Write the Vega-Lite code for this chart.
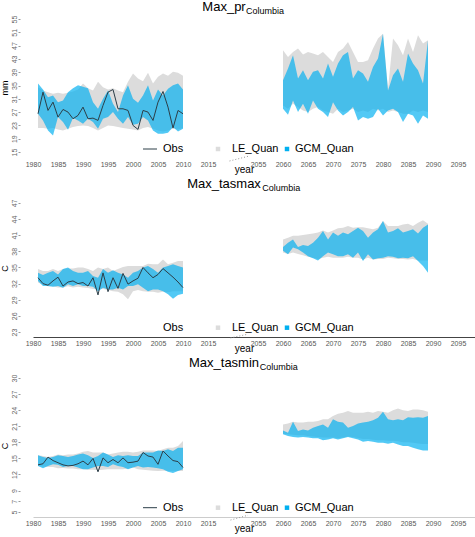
{
"$schema": "https://vega.github.io/schema/vega-lite/v6.json",
"padding": {"left": 0, "right": 0, "top": 1, "bottom": 0},
"spacing": 3,
"config": {"view": {"stroke": null}, "font": "Liberation Sans", "axis": {"labelOverlap": false}},
"datasets": {
"pr": [
{"year":1981,"period":"hist","Obs":26.5,"LE_lo":22.2,"LE_hi":34.5,"GCM_lo":26.5,"GCM_hi":35.6},
{"year":1982,"period":"hist","Obs":33.0,"LE_lo":22.2,"LE_hi":33.5,"GCM_lo":24.5,"GCM_hi":33.8},
{"year":1983,"period":"hist","Obs":27.5,"LE_lo":22.0,"LE_hi":33.0,"GCM_lo":21.5,"GCM_hi":31.5},
{"year":1984,"period":"hist","Obs":30.0,"LE_lo":22.2,"LE_hi":32.5,"GCM_lo":20.0,"GCM_hi":32.0},
{"year":1985,"period":"hist","Obs":25.5,"LE_lo":21.8,"LE_hi":32.8,"GCM_lo":25.5,"GCM_hi":30.0},
{"year":1986,"period":"hist","Obs":27.8,"LE_lo":21.5,"LE_hi":32.5,"GCM_lo":24.0,"GCM_hi":30.5},
{"year":1987,"period":"hist","Obs":27.0,"LE_lo":22.0,"LE_hi":32.8,"GCM_lo":21.7,"GCM_hi":33.0},
{"year":1988,"period":"hist","Obs":25.0,"LE_lo":22.5,"LE_hi":33.2,"GCM_lo":25.2,"GCM_hi":34.2},
{"year":1989,"period":"hist","Obs":26.0,"LE_lo":22.8,"LE_hi":33.8,"GCM_lo":24.5,"GCM_hi":35.1},
{"year":1990,"period":"hist","Obs":28.5,"LE_lo":23.0,"LE_hi":35.6,"GCM_lo":23.5,"GCM_hi":34.6},
{"year":1991,"period":"hist","Obs":25.0,"LE_lo":22.8,"LE_hi":34.2,"GCM_lo":25.0,"GCM_hi":34.2},
{"year":1992,"period":"hist","Obs":25.2,"LE_lo":22.2,"LE_hi":33.5,"GCM_lo":24.0,"GCM_hi":30.0},
{"year":1993,"period":"hist","Obs":24.5,"LE_lo":21.5,"LE_hi":36.1,"GCM_lo":22.0,"GCM_hi":28.0},
{"year":1994,"period":"hist","Obs":29.0,"LE_lo":22.2,"LE_hi":34.5,"GCM_lo":25.0,"GCM_hi":31.0},
{"year":1995,"period":"hist","Obs":33.0,"LE_lo":23.0,"LE_hi":33.8,"GCM_lo":25.5,"GCM_hi":33.5},
{"year":1996,"period":"hist","Obs":33.8,"LE_lo":22.8,"LE_hi":34.2,"GCM_lo":27.0,"GCM_hi":29.5},
{"year":1997,"period":"hist","Obs":28.0,"LE_lo":22.5,"LE_hi":33.5,"GCM_lo":25.0,"GCM_hi":27.0},
{"year":1998,"period":"hist","Obs":28.0,"LE_lo":22.2,"LE_hi":33.0,"GCM_lo":23.5,"GCM_hi":32.0},
{"year":1999,"period":"hist","Obs":27.5,"LE_lo":22.0,"LE_hi":36.1,"GCM_lo":25.5,"GCM_hi":35.1},
{"year":2000,"period":"hist","Obs":23.0,"LE_lo":21.8,"LE_hi":38.6,"GCM_lo":23.2,"GCM_hi":31.0},
{"year":2001,"period":"hist","Obs":21.8,"LE_lo":21.5,"LE_hi":37.1,"GCM_lo":23.5,"GCM_hi":29.8},
{"year":2002,"period":"hist","Obs":27.5,"LE_lo":22.2,"LE_hi":36.3,"GCM_lo":25.5,"GCM_hi":32.0},
{"year":2003,"period":"hist","Obs":27.0,"LE_lo":22.5,"LE_hi":38.8,"GCM_lo":24.5,"GCM_hi":35.1},
{"year":2004,"period":"hist","Obs":24.5,"LE_lo":22.0,"LE_hi":35.6,"GCM_lo":21.5,"GCM_hi":30.5},
{"year":2005,"period":"hist","Obs":30.0,"LE_lo":21.5,"LE_hi":37.6,"GCM_lo":20.5,"GCM_hi":33.8},
{"year":2006,"period":"hist","Obs":33.2,"LE_lo":21.2,"LE_hi":38.6,"GCM_lo":20.5,"GCM_hi":32.0},
{"year":2007,"period":"hist","Obs":28.5,"LE_lo":21.5,"LE_hi":37.9,"GCM_lo":20.8,"GCM_hi":34.0},
{"year":2008,"period":"hist","Obs":22.2,"LE_lo":22.0,"LE_hi":39.1,"GCM_lo":22.5,"GCM_hi":35.1},
{"year":2009,"period":"hist","Obs":27.5,"LE_lo":21.8,"LE_hi":38.8,"GCM_lo":21.2,"GCM_hi":35.6},
{"year":2010,"period":"hist","Obs":26.5,"LE_lo":22.2,"LE_hi":37.9,"GCM_lo":22.0,"GCM_hi":33.8},
{"year":2060,"period":"future","LE_lo":29.0,"LE_hi":45.6,"GCM_lo":28.0,"GCM_hi":36.6},
{"year":2061,"period":"future","LE_lo":28.0,"LE_hi":43.6,"GCM_lo":26.2,"GCM_hi":40.1},
{"year":2062,"period":"future","LE_lo":29.5,"LE_hi":45.1,"GCM_lo":30.5,"GCM_hi":44.1},
{"year":2063,"period":"future","LE_lo":28.5,"LE_hi":46.1,"GCM_lo":27.0,"GCM_hi":37.1},
{"year":2064,"period":"future","LE_lo":27.5,"LE_hi":44.3,"GCM_lo":29.5,"GCM_hi":39.6},
{"year":2065,"period":"future","LE_lo":27.0,"LE_hi":45.1,"GCM_lo":26.5,"GCM_hi":36.6},
{"year":2066,"period":"future","LE_lo":28.0,"LE_hi":44.6,"GCM_lo":30.5,"GCM_hi":39.1},
{"year":2067,"period":"future","LE_lo":28.5,"LE_hi":44.1,"GCM_lo":28.0,"GCM_hi":39.6},
{"year":2068,"period":"future","LE_lo":27.5,"LE_hi":45.1,"GCM_lo":27.0,"GCM_hi":37.1},
{"year":2069,"period":"future","LE_lo":27.0,"LE_hi":43.6,"GCM_lo":25.5,"GCM_hi":41.6},
{"year":2070,"period":"future","LE_lo":26.5,"LE_hi":42.1,"GCM_lo":30.0,"GCM_hi":37.6},
{"year":2071,"period":"future","LE_lo":28.0,"LE_hi":45.1,"GCM_lo":27.5,"GCM_hi":41.6},
{"year":2072,"period":"future","LE_lo":27.0,"LE_hi":46.1,"GCM_lo":26.0,"GCM_hi":44.1},
{"year":2073,"period":"future","LE_lo":27.5,"LE_hi":48.1,"GCM_lo":27.0,"GCM_hi":45.1},
{"year":2074,"period":"future","LE_lo":28.0,"LE_hi":45.1,"GCM_lo":28.5,"GCM_hi":37.1},
{"year":2075,"period":"future","LE_lo":27.0,"LE_hi":42.1,"GCM_lo":24.5,"GCM_hi":39.6},
{"year":2076,"period":"future","LE_lo":27.5,"LE_hi":42.1,"GCM_lo":25.5,"GCM_hi":38.6},
{"year":2077,"period":"future","LE_lo":27.0,"LE_hi":42.6,"GCM_lo":25.0,"GCM_hi":36.1},
{"year":2078,"period":"future","LE_lo":28.0,"LE_hi":46.1,"GCM_lo":25.5,"GCM_hi":40.6},
{"year":2079,"period":"future","LE_lo":27.5,"LE_hi":49.1,"GCM_lo":28.0,"GCM_hi":43.1},
{"year":2080,"period":"future","LE_lo":28.0,"LE_hi":50.6,"GCM_lo":26.0,"GCM_hi":50.6},
{"year":2081,"period":"future","LE_lo":27.0,"LE_hi":34.0,"GCM_lo":27.5,"GCM_hi":33.5},
{"year":2082,"period":"future","LE_lo":27.5,"LE_hi":49.1,"GCM_lo":28.0,"GCM_hi":38.1},
{"year":2083,"period":"future","LE_lo":27.0,"LE_hi":47.1,"GCM_lo":27.0,"GCM_hi":40.1},
{"year":2084,"period":"future","LE_lo":26.5,"LE_hi":44.1,"GCM_lo":24.0,"GCM_hi":36.1},
{"year":2085,"period":"future","LE_lo":26.5,"LE_hi":49.1,"GCM_lo":26.5,"GCM_hi":44.6},
{"year":2086,"period":"future","LE_lo":27.5,"LE_hi":45.1,"GCM_lo":26.0,"GCM_hi":41.6},
{"year":2087,"period":"future","LE_lo":27.0,"LE_hi":50.1,"GCM_lo":23.5,"GCM_hi":39.6},
{"year":2088,"period":"future","LE_lo":27.5,"LE_hi":47.6,"GCM_lo":26.0,"GCM_hi":35.6},
{"year":2089,"period":"future","LE_lo":27.0,"LE_hi":48.6,"GCM_lo":25.0,"GCM_hi":48.6}
],
"tasmax": [
{"year":1981,"period":"hist","Obs":33.1,"LE_lo":32.2,"LE_hi":34.7,"GCM_lo":32.5,"GCM_hi":34.0},
{"year":1982,"period":"hist","Obs":32.0,"LE_lo":31.8,"LE_hi":34.35,"GCM_lo":31.55,"GCM_hi":33.6},
{"year":1983,"period":"hist","Obs":31.7,"LE_lo":31.5,"LE_hi":34.35,"GCM_lo":31.55,"GCM_hi":34.0},
{"year":1984,"period":"hist","Obs":32.5,"LE_lo":31.5,"LE_hi":34.7,"GCM_lo":31.4,"GCM_hi":34.35},
{"year":1985,"period":"hist","Obs":33.2,"LE_lo":31.3,"LE_hi":34.35,"GCM_lo":31.55,"GCM_hi":33.7},
{"year":1986,"period":"hist","Obs":31.55,"LE_lo":31.3,"LE_hi":34.7,"GCM_lo":31.25,"GCM_hi":34.7},
{"year":1987,"period":"hist","Obs":32.3,"LE_lo":31.5,"LE_hi":34.8,"GCM_lo":31.9,"GCM_hi":35.0},
{"year":1988,"period":"hist","Obs":32.5,"LE_lo":31.3,"LE_hi":34.8,"GCM_lo":31.55,"GCM_hi":34.35},
{"year":1989,"period":"hist","Obs":32.0,"LE_lo":31.4,"LE_hi":35.0,"GCM_lo":31.9,"GCM_hi":34.0},
{"year":1990,"period":"hist","Obs":32.2,"LE_lo":31.3,"LE_hi":35.0,"GCM_lo":31.55,"GCM_hi":34.0},
{"year":1991,"period":"hist","Obs":31.55,"LE_lo":31.2,"LE_hi":34.7,"GCM_lo":31.55,"GCM_hi":34.35},
{"year":1992,"period":"hist","Obs":33.1,"LE_lo":31.0,"LE_hi":34.35,"GCM_lo":31.4,"GCM_hi":33.4},
{"year":1993,"period":"hist","Obs":29.9,"LE_lo":30.9,"LE_hi":35.0,"GCM_lo":30.6,"GCM_hi":33.1},
{"year":1994,"period":"hist","Obs":34.0,"LE_lo":31.0,"LE_hi":34.7,"GCM_lo":31.25,"GCM_hi":34.7},
{"year":1995,"period":"hist","Obs":30.5,"LE_lo":30.8,"LE_hi":35.0,"GCM_lo":30.9,"GCM_hi":34.0},
{"year":1996,"period":"hist","Obs":33.1,"LE_lo":30.6,"LE_hi":34.35,"GCM_lo":30.9,"GCM_hi":34.5},
{"year":1997,"period":"hist","Obs":31.1,"LE_lo":30.5,"LE_hi":34.7,"GCM_lo":31.25,"GCM_hi":34.0},
{"year":1998,"period":"hist","Obs":33.9,"LE_lo":30.0,"LE_hi":35.1,"GCM_lo":30.9,"GCM_hi":33.7},
{"year":1999,"period":"hist","Obs":31.9,"LE_lo":29.1,"LE_hi":35.3,"GCM_lo":31.55,"GCM_hi":33.1},
{"year":2000,"period":"hist","Obs":32.5,"LE_lo":30.6,"LE_hi":35.3,"GCM_lo":31.55,"GCM_hi":34.0},
{"year":2001,"period":"hist","Obs":33.0,"LE_lo":30.8,"LE_hi":35.3,"GCM_lo":31.9,"GCM_hi":34.35},
{"year":2002,"period":"hist","Obs":35.0,"LE_lo":30.6,"LE_hi":35.3,"GCM_lo":31.25,"GCM_hi":35.0},
{"year":2003,"period":"hist","Obs":34.0,"LE_lo":30.5,"LE_hi":35.7,"GCM_lo":30.6,"GCM_hi":35.3},
{"year":2004,"period":"hist","Obs":33.1,"LE_lo":30.5,"LE_hi":35.6,"GCM_lo":30.9,"GCM_hi":34.7},
{"year":2005,"period":"hist","Obs":33.7,"LE_lo":30.3,"LE_hi":35.6,"GCM_lo":30.9,"GCM_hi":34.0},
{"year":2006,"period":"hist","Obs":34.8,"LE_lo":30.5,"LE_hi":36.5,"GCM_lo":30.6,"GCM_hi":35.0},
{"year":2007,"period":"hist","Obs":34.0,"LE_lo":30.4,"LE_hi":35.6,"GCM_lo":30.0,"GCM_hi":35.3},
{"year":2008,"period":"hist","Obs":33.2,"LE_lo":30.6,"LE_hi":35.9,"GCM_lo":29.2,"GCM_hi":35.6},
{"year":2009,"period":"hist","Obs":32.3,"LE_lo":30.6,"LE_hi":36.2,"GCM_lo":29.9,"GCM_hi":35.3},
{"year":2010,"period":"hist","Obs":31.25,"LE_lo":30.6,"LE_hi":36.2,"GCM_lo":30.1,"GCM_hi":35.0},
{"year":2060,"period":"future","LE_lo":37.8,"LE_hi":40.2,"GCM_lo":38.1,"GCM_hi":38.8},
{"year":2061,"period":"future","LE_lo":37.5,"LE_hi":40.55,"GCM_lo":37.45,"GCM_hi":39.6},
{"year":2062,"period":"future","LE_lo":37.8,"LE_hi":40.9,"GCM_lo":38.7,"GCM_hi":40.2},
{"year":2063,"period":"future","LE_lo":37.5,"LE_hi":40.9,"GCM_lo":38.4,"GCM_hi":38.8},
{"year":2064,"period":"future","LE_lo":37.3,"LE_hi":41.05,"GCM_lo":37.8,"GCM_hi":39.2},
{"year":2065,"period":"future","LE_lo":37.0,"LE_hi":41.2,"GCM_lo":37.1,"GCM_hi":39.0},
{"year":2066,"period":"future","LE_lo":36.8,"LE_hi":41.3,"GCM_lo":36.7,"GCM_hi":39.6},
{"year":2067,"period":"future","LE_lo":36.6,"LE_hi":41.5,"GCM_lo":36.3,"GCM_hi":40.55},
{"year":2068,"period":"future","LE_lo":36.8,"LE_hi":41.9,"GCM_lo":37.1,"GCM_hi":41.8},
{"year":2069,"period":"future","LE_lo":37.0,"LE_hi":41.5,"GCM_lo":37.8,"GCM_hi":40.2},
{"year":2070,"period":"future","LE_lo":36.8,"LE_hi":41.9,"GCM_lo":37.45,"GCM_hi":41.5},
{"year":2071,"period":"future","LE_lo":36.8,"LE_hi":42.3,"GCM_lo":37.1,"GCM_hi":40.9},
{"year":2072,"period":"future","LE_lo":36.8,"LE_hi":42.4,"GCM_lo":37.1,"GCM_hi":41.5},
{"year":2073,"period":"future","LE_lo":37.0,"LE_hi":42.7,"GCM_lo":37.45,"GCM_hi":41.2},
{"year":2074,"period":"future","LE_lo":36.8,"LE_hi":42.4,"GCM_lo":36.8,"GCM_hi":41.8},
{"year":2075,"period":"future","LE_lo":36.8,"LE_hi":42.5,"GCM_lo":37.8,"GCM_hi":42.4},
{"year":2076,"period":"future","LE_lo":36.5,"LE_hi":42.5,"GCM_lo":36.2,"GCM_hi":41.8},
{"year":2077,"period":"future","LE_lo":36.8,"LE_hi":42.3,"GCM_lo":37.45,"GCM_hi":40.55},
{"year":2078,"period":"future","LE_lo":36.5,"LE_hi":42.1,"GCM_lo":36.5,"GCM_hi":41.5},
{"year":2079,"period":"future","LE_lo":36.6,"LE_hi":42.4,"GCM_lo":36.7,"GCM_hi":42.1},
{"year":2080,"period":"future","LE_lo":36.6,"LE_hi":43.65,"GCM_lo":36.8,"GCM_hi":43.65},
{"year":2081,"period":"future","LE_lo":36.8,"LE_hi":42.7,"GCM_lo":37.1,"GCM_hi":41.5},
{"year":2082,"period":"future","LE_lo":36.7,"LE_hi":42.7,"GCM_lo":37.0,"GCM_hi":41.8},
{"year":2083,"period":"future","LE_lo":36.6,"LE_hi":42.7,"GCM_lo":36.7,"GCM_hi":42.3},
{"year":2084,"period":"future","LE_lo":36.6,"LE_hi":43.0,"GCM_lo":36.8,"GCM_hi":41.5},
{"year":2085,"period":"future","LE_lo":36.5,"LE_hi":43.15,"GCM_lo":36.7,"GCM_hi":41.8},
{"year":2086,"period":"future","LE_lo":36.6,"LE_hi":42.7,"GCM_lo":37.1,"GCM_hi":42.1},
{"year":2087,"period":"future","LE_lo":36.3,"LE_hi":43.3,"GCM_lo":36.2,"GCM_hi":41.3},
{"year":2088,"period":"future","LE_lo":36.3,"LE_hi":43.8,"GCM_lo":35.3,"GCM_hi":42.4},
{"year":2089,"period":"future","LE_lo":36.3,"LE_hi":43.15,"GCM_lo":34.0,"GCM_hi":43.0}
],
"tasmin": [
{"year":1981,"period":"hist","Obs":13.8,"LE_lo":13.6,"LE_hi":15.6,"GCM_lo":13.6,"GCM_hi":15.6},
{"year":1982,"period":"hist","Obs":14.0,"LE_lo":13.5,"LE_hi":15.45,"GCM_lo":13.15,"GCM_hi":15.25},
{"year":1983,"period":"hist","Obs":15.25,"LE_lo":13.4,"LE_hi":15.25,"GCM_lo":13.6,"GCM_hi":15.1},
{"year":1984,"period":"hist","Obs":14.6,"LE_lo":13.4,"LE_hi":15.45,"GCM_lo":13.9,"GCM_hi":15.25},
{"year":1985,"period":"hist","Obs":14.2,"LE_lo":13.15,"LE_hi":15.75,"GCM_lo":13.8,"GCM_hi":15.6},
{"year":1986,"period":"hist","Obs":13.8,"LE_lo":13.2,"LE_hi":15.6,"GCM_lo":13.4,"GCM_hi":15.45},
{"year":1987,"period":"hist","Obs":13.6,"LE_lo":13.1,"LE_hi":15.75,"GCM_lo":13.6,"GCM_hi":15.25},
{"year":1988,"period":"hist","Obs":13.7,"LE_lo":13.1,"LE_hi":15.75,"GCM_lo":13.6,"GCM_hi":15.45},
{"year":1989,"period":"hist","Obs":14.0,"LE_lo":13.0,"LE_hi":15.9,"GCM_lo":13.3,"GCM_hi":15.75},
{"year":1990,"period":"hist","Obs":14.5,"LE_lo":13.0,"LE_hi":16.25,"GCM_lo":13.0,"GCM_hi":15.9},
{"year":1991,"period":"hist","Obs":13.8,"LE_lo":12.9,"LE_hi":16.4,"GCM_lo":13.0,"GCM_hi":15.6},
{"year":1992,"period":"hist","Obs":15.0,"LE_lo":12.9,"LE_hi":16.1,"GCM_lo":13.3,"GCM_hi":15.1},
{"year":1993,"period":"hist","Obs":12.5,"LE_lo":12.8,"LE_hi":16.1,"GCM_lo":13.6,"GCM_hi":15.45},
{"year":1994,"period":"hist","Obs":15.1,"LE_lo":12.9,"LE_hi":16.1,"GCM_lo":13.6,"GCM_hi":16.1},
{"year":1995,"period":"hist","Obs":14.2,"LE_lo":13.0,"LE_hi":15.75,"GCM_lo":13.4,"GCM_hi":15.75},
{"year":1996,"period":"hist","Obs":14.8,"LE_lo":13.0,"LE_hi":15.9,"GCM_lo":13.9,"GCM_hi":15.25},
{"year":1997,"period":"hist","Obs":14.2,"LE_lo":13.0,"LE_hi":16.1,"GCM_lo":13.6,"GCM_hi":15.6},
{"year":1998,"period":"hist","Obs":15.1,"LE_lo":13.0,"LE_hi":16.25,"GCM_lo":13.4,"GCM_hi":15.45},
{"year":1999,"period":"hist","Obs":14.2,"LE_lo":13.1,"LE_hi":16.25,"GCM_lo":13.0,"GCM_hi":15.6},
{"year":2000,"period":"hist","Obs":14.3,"LE_lo":13.3,"LE_hi":16.1,"GCM_lo":13.3,"GCM_hi":15.45},
{"year":2001,"period":"hist","Obs":14.5,"LE_lo":13.0,"LE_hi":16.25,"GCM_lo":13.6,"GCM_hi":15.45},
{"year":2002,"period":"hist","Obs":16.1,"LE_lo":12.9,"LE_hi":16.5,"GCM_lo":13.3,"GCM_hi":16.1},
{"year":2003,"period":"hist","Obs":15.45,"LE_lo":12.8,"LE_hi":16.5,"GCM_lo":13.4,"GCM_hi":16.1},
{"year":2004,"period":"hist","Obs":15.25,"LE_lo":12.7,"LE_hi":16.5,"GCM_lo":13.3,"GCM_hi":16.1},
{"year":2005,"period":"hist","Obs":13.9,"LE_lo":12.65,"LE_hi":16.4,"GCM_lo":13.15,"GCM_hi":16.5},
{"year":2006,"period":"hist","Obs":16.4,"LE_lo":12.7,"LE_hi":16.7,"GCM_lo":13.0,"GCM_hi":16.4},
{"year":2007,"period":"hist","Obs":15.45,"LE_lo":12.65,"LE_hi":17.0,"GCM_lo":12.5,"GCM_hi":16.7},
{"year":2008,"period":"hist","Obs":14.6,"LE_lo":12.65,"LE_hi":17.0,"GCM_lo":12.3,"GCM_hi":16.4},
{"year":2009,"period":"hist","Obs":14.4,"LE_lo":12.65,"LE_hi":17.3,"GCM_lo":12.65,"GCM_hi":17.0},
{"year":2010,"period":"hist","Obs":13.3,"LE_lo":12.65,"LE_hi":18.25,"GCM_lo":13.0,"GCM_hi":17.0},
{"year":2060,"period":"future","LE_lo":19.6,"LE_hi":21.35,"GCM_lo":19.5,"GCM_hi":20.2},
{"year":2061,"period":"future","LE_lo":19.5,"LE_hi":21.5,"GCM_lo":19.2,"GCM_hi":19.8},
{"year":2062,"period":"future","LE_lo":19.4,"LE_hi":21.85,"GCM_lo":19.0,"GCM_hi":21.85},
{"year":2063,"period":"future","LE_lo":19.3,"LE_hi":21.7,"GCM_lo":18.9,"GCM_hi":20.1},
{"year":2064,"period":"future","LE_lo":19.3,"LE_hi":21.7,"GCM_lo":19.0,"GCM_hi":20.4},
{"year":2065,"period":"future","LE_lo":19.2,"LE_hi":21.85,"GCM_lo":18.9,"GCM_hi":20.2},
{"year":2066,"period":"future","LE_lo":19.1,"LE_hi":21.85,"GCM_lo":18.75,"GCM_hi":20.7},
{"year":2067,"period":"future","LE_lo":19.0,"LE_hi":22.0,"GCM_lo":18.75,"GCM_hi":21.05},
{"year":2068,"period":"future","LE_lo":18.9,"LE_hi":22.3,"GCM_lo":18.4,"GCM_hi":21.35},
{"year":2069,"period":"future","LE_lo":18.9,"LE_hi":22.3,"GCM_lo":18.55,"GCM_hi":20.7},
{"year":2070,"period":"future","LE_lo":18.9,"LE_hi":22.9,"GCM_lo":18.75,"GCM_hi":22.3},
{"year":2071,"period":"future","LE_lo":18.8,"LE_hi":23.35,"GCM_lo":18.55,"GCM_hi":21.85},
{"year":2072,"period":"future","LE_lo":18.9,"LE_hi":23.5,"GCM_lo":18.75,"GCM_hi":21.7},
{"year":2073,"period":"future","LE_lo":19.1,"LE_hi":23.85,"GCM_lo":19.0,"GCM_hi":20.7},
{"year":2074,"period":"future","LE_lo":19.0,"LE_hi":23.5,"GCM_lo":18.75,"GCM_hi":21.05},
{"year":2075,"period":"future","LE_lo":18.8,"LE_hi":23.5,"GCM_lo":18.55,"GCM_hi":21.5},
{"year":2076,"period":"future","LE_lo":18.6,"LE_hi":23.5,"GCM_lo":18.1,"GCM_hi":21.7},
{"year":2077,"period":"future","LE_lo":18.6,"LE_hi":23.7,"GCM_lo":18.25,"GCM_hi":21.85},
{"year":2078,"period":"future","LE_lo":18.5,"LE_hi":23.5,"GCM_lo":18.1,"GCM_hi":22.1},
{"year":2079,"period":"future","LE_lo":18.4,"LE_hi":23.85,"GCM_lo":17.9,"GCM_hi":22.6},
{"year":2080,"period":"future","LE_lo":18.4,"LE_hi":23.7,"GCM_lo":17.9,"GCM_hi":23.7},
{"year":2081,"period":"future","LE_lo":18.3,"LE_hi":23.5,"GCM_lo":17.75,"GCM_hi":22.3},
{"year":2082,"period":"future","LE_lo":18.3,"LE_hi":24.0,"GCM_lo":17.9,"GCM_hi":22.1},
{"year":2083,"period":"future","LE_lo":18.2,"LE_hi":24.3,"GCM_lo":17.6,"GCM_hi":22.3},
{"year":2084,"period":"future","LE_lo":18.0,"LE_hi":24.0,"GCM_lo":17.3,"GCM_hi":22.1},
{"year":2085,"period":"future","LE_lo":18.0,"LE_hi":23.85,"GCM_lo":17.3,"GCM_hi":22.7},
{"year":2086,"period":"future","LE_lo":17.9,"LE_hi":24.15,"GCM_lo":17.0,"GCM_hi":22.6},
{"year":2087,"period":"future","LE_lo":17.8,"LE_hi":24.15,"GCM_lo":16.7,"GCM_hi":22.7},
{"year":2088,"period":"future","LE_lo":17.7,"LE_hi":24.0,"GCM_lo":16.5,"GCM_hi":22.6},
{"year":2089,"period":"future","LE_lo":17.7,"LE_hi":23.7,"GCM_lo":16.5,"GCM_hi":22.9}
],
"brk_pr": [{"year":2019.3,"year_end":2053,"lo":12.3,"hi":13.7}],
"brk_tasmax": [{"year":2019.5,"year_end":2053,"lo":21.9,"hi":22.6}],
"brk_tasmin": [{"year":2019.5,"year_end":2053,"lo":3.5,"hi":4.4}]
},
"vconcat": [
{
"width": 455, "height": 141,
"title": {"text": "Max_pr\u00a0\u00a0\u00a0\u00a0\u00a0\u00a0\u00a0\u00a0\u00a0\u00a0\u00a0\u00a0\u00a0\u200b", "subtitle": "\u200b\u00a0\u00a0\u00a0\u00a0\u00a0\u00a0\u00a0\u00a0\u00a0\u00a0\u00a0\u00a0\u00a0\u00a0Columbia", "frame": "group", "anchor": "middle", "fontSize": 13, "fontWeight": "normal", "font": "Liberation Sans", "color": "#000", "subtitleFontSize": 9, "subtitleFont": "Liberation Sans", "subtitleColor": "#000", "subtitlePadding": -7, "offset": -1},
"data": {"name": "pr"},
"encoding": {
 "x": {"field": "year", "type": "quantitative", "title": "year", "scale": {"domain": [1980, 2020, 2050, 2098.4], "range": [13, 213, 213, 455], "nice": false, "zero": false},
       "axis": {"values": [1980,1985,1990,1995,2000,2005,2010,2015,2055,2060,2065,2070,2075,2080,2085,2090,2095], "format": "d", "labelFontSize": 7, "labelColor": "#555", "ticks": false, "labelPadding": 2, "grid": false, "domain": false, "labelFlush": false, "labelOverlap": false, "titleFontSize": 10, "titleFontWeight": "normal", "titleColor": "#000", "titleX": 224, "titleY": 11.5, "titleBaseline": "middle", "titleAlign": "center"}}
},
"layer": [
{"mark": {"type": "area"},
 "encoding": {
  "y": {"field": "LE_lo", "type": "quantitative", "title": "mm", "scale": {"domain": [13.2, 55.6], "nice": false, "zero": false},
        "axis": {"values": [15,19,23,27,31,35,39,43,47,51,55], "format": "d", "labelAngle": 270, "labelFontSize": 7, "labelColor": "#666", "tickSize": 2, "tickColor": "#999", "labelPadding": 1, "domain": false, "grid": false, "labelOverlap": false, "titleFontSize": 9, "titleFontWeight": "normal", "titleColor": "#000", "titlePadding": 1}},
  "y2": {"field": "LE_hi"},
  "detail": {"field": "period"},
  "fill": {"datum": "LE_Quan", "scale": {"domain": ["LE_Quan"], "range": ["#dcdcdc"]}, "legend": {"orient": "none", "legendX": 192.5, "legendY": 126.5, "title": null, "symbolType": "square", "symbolSize": 20, "symbolStrokeWidth": 0, "symbolOpacity": 1, "labelOffset": 8.5, "labelFontSize": 11, "labelFont": "Liberation Sans", "labelColor": "#000", "padding": 0}}
 }},
{"mark": {"type": "area", "opacity": 0.68},
 "encoding": {
  "y": {"field": "GCM_lo", "type": "quantitative", "title": "mm", "scale": {"domain": [13.2, 55.6], "nice": false, "zero": false},
        "axis": {"values": [15,19,23,27,31,35,39,43,47,51,55], "format": "d", "labelAngle": 270, "labelFontSize": 7, "labelColor": "#666", "tickSize": 2, "tickColor": "#999", "labelPadding": 1, "domain": false, "grid": false, "labelOverlap": false, "titleFontSize": 9, "titleFontWeight": "normal", "titleColor": "#000", "titlePadding": 1}},
  "y2": {"field": "GCM_hi"},
  "detail": {"field": "period"},
  "color": {"datum": "GCM_Quan", "scale": {"domain": ["GCM_Quan"], "range": ["#00b0f0"]}, "legend": {"orient": "none", "legendX": 261.5, "legendY": 126.5, "title": null, "symbolType": "square", "symbolSize": 20, "symbolStrokeWidth": 0, "symbolOpacity": 1, "labelOffset": 2.5, "labelFontSize": 11, "labelFont": "Liberation Sans", "labelColor": "#000", "padding": 0}}
 }},
{"mark": {"type": "line", "strokeWidth": 1},
 "encoding": {
  "y": {"field": "Obs", "type": "quantitative", "title": "mm", "scale": {"domain": [13.2, 55.6], "nice": false, "zero": false},
        "axis": {"values": [15,19,23,27,31,35,39,43,47,51,55], "format": "d", "labelAngle": 270, "labelFontSize": 7, "labelColor": "#666", "tickSize": 2, "tickColor": "#999", "labelPadding": 1, "domain": false, "grid": false, "labelOverlap": false, "titleFontSize": 9, "titleFontWeight": "normal", "titleColor": "#000", "titlePadding": 1}},
  "stroke": {"datum": "Obs", "scale": {"domain": ["Obs"], "range": ["#2c3e48"]}, "legend": {"orient": "none", "legendX": 122.5, "legendY": 124.5, "title": null, "symbolType": "stroke", "symbolSize": 196, "symbolStrokeWidth": 1, "labelOffset": 5.5, "labelFontSize": 11, "labelFont": "Liberation Sans", "labelColor": "#000", "padding": 0}}
 }},
{"data": {"name": "brk_pr"}, "mark": {"type": "rule", "color": "#999", "strokeDash": [1, 2], "strokeWidth": 1},
 "encoding": {
  "x2": {"field": "year_end"},
  "y": {"field": "lo", "type": "quantitative", "title": "mm", "scale": {"domain": [13.2, 55.6], "nice": false, "zero": false},
        "axis": {"values": [15,19,23,27,31,35,39,43,47,51,55], "format": "d", "labelAngle": 270, "labelFontSize": 7, "labelColor": "#666", "tickSize": 2, "tickColor": "#999", "labelPadding": 1, "domain": false, "grid": false, "labelOverlap": false, "titleFontSize": 9, "titleFontWeight": "normal", "titleColor": "#000", "titlePadding": 1}},
  "y2": {"field": "hi"}
 }}
]
},
{
"width": 455, "height": 138,
"title": {"text": "Max_tasmax\u00a0\u00a0\u00a0\u00a0\u00a0\u00a0\u00a0\u00a0\u00a0\u00a0\u00a0\u00a0\u00a0\u200b", "subtitle": "\u200b\u00a0\u00a0\u00a0\u00a0\u00a0\u00a0\u00a0\u00a0\u00a0\u00a0\u00a0\u00a0\u00a0\u00a0\u00a0\u00a0\u00a0\u00a0\u00a0\u00a0\u00a0\u00a0\u00a0\u00a0\u00a0\u00a0\u00a0Columbia", "frame": "group", "anchor": "middle", "fontSize": 13, "fontWeight": "normal", "font": "Liberation Sans", "color": "#000", "subtitleFontSize": 9, "subtitleFont": "Liberation Sans", "subtitleColor": "#000", "subtitlePadding": -7, "offset": 6},
"data": {"name": "tasmax"},
"encoding": {
 "x": {"field": "year", "type": "quantitative", "title": "year", "scale": {"domain": [1980, 2020, 2050, 2098.4], "range": [13, 213, 213, 455], "nice": false, "zero": false},
       "axis": {"values": [1980,1985,1990,1995,2000,2005,2010,2015,2055,2060,2065,2070,2075,2080,2085,2090,2095], "format": "d", "labelFontSize": 7, "labelColor": "#555", "ticks": false, "labelPadding": 2, "grid": false, "domain": true, "domainColor": "#444", "domainWidth": 1, "labelFlush": false, "labelOverlap": false, "titleFontSize": 10, "titleFontWeight": "normal", "titleColor": "#000", "titleX": 224, "titleY": 11.5, "titleBaseline": "middle", "titleAlign": "center"}}
},
"layer": [
{"mark": {"type": "area"},
 "encoding": {
  "y": {"field": "LE_lo", "type": "quantitative", "title": "C", "scale": {"domain": [22.07, 47.74], "nice": false, "zero": false},
        "axis": {"values": [23,26,29,32,35,38,41,44,47], "format": "d", "labelAngle": 270, "labelFontSize": 7, "labelColor": "#666", "tickSize": 2, "tickColor": "#999", "labelPadding": 1, "domain": false, "grid": false, "labelOverlap": false, "titleFontSize": 9, "titleFontWeight": "normal", "titleColor": "#000", "titlePadding": 1}},
  "y2": {"field": "LE_hi"},
  "detail": {"field": "period"},
  "fill": {"datum": "LE_Quan", "scale": {"domain": ["LE_Quan"], "range": ["#dcdcdc"]}, "legend": {"orient": "none", "legendX": 192.5, "legendY": 123.2, "title": null, "symbolType": "square", "symbolSize": 20, "symbolStrokeWidth": 0, "symbolOpacity": 1, "labelOffset": 8.5, "labelFontSize": 11, "labelFont": "Liberation Sans", "labelColor": "#000", "padding": 0}}
 }},
{"mark": {"type": "area", "opacity": 0.68},
 "encoding": {
  "y": {"field": "GCM_lo", "type": "quantitative", "title": "C", "scale": {"domain": [22.07, 47.74], "nice": false, "zero": false},
        "axis": {"values": [23,26,29,32,35,38,41,44,47], "format": "d", "labelAngle": 270, "labelFontSize": 7, "labelColor": "#666", "tickSize": 2, "tickColor": "#999", "labelPadding": 1, "domain": false, "grid": false, "labelOverlap": false, "titleFontSize": 9, "titleFontWeight": "normal", "titleColor": "#000", "titlePadding": 1}},
  "y2": {"field": "GCM_hi"},
  "detail": {"field": "period"},
  "color": {"datum": "GCM_Quan", "scale": {"domain": ["GCM_Quan"], "range": ["#00b0f0"]}, "legend": {"orient": "none", "legendX": 261.5, "legendY": 123.2, "title": null, "symbolType": "square", "symbolSize": 20, "symbolStrokeWidth": 0, "symbolOpacity": 1, "labelOffset": 2.5, "labelFontSize": 11, "labelFont": "Liberation Sans", "labelColor": "#000", "padding": 0}}
 }},
{"mark": {"type": "line", "strokeWidth": 1},
 "encoding": {
  "y": {"field": "Obs", "type": "quantitative", "title": "C", "scale": {"domain": [22.07, 47.74], "nice": false, "zero": false},
        "axis": {"values": [23,26,29,32,35,38,41,44,47], "format": "d", "labelAngle": 270, "labelFontSize": 7, "labelColor": "#666", "tickSize": 2, "tickColor": "#999", "labelPadding": 1, "domain": false, "grid": false, "labelOverlap": false, "titleFontSize": 9, "titleFontWeight": "normal", "titleColor": "#000", "titlePadding": 1}},
  "stroke": {"datum": "Obs", "scale": {"domain": ["Obs"], "range": ["#2c3e48"]}, "legend": {"orient": "none", "legendX": 122.5, "legendY": 121.2, "title": null, "symbolType": "stroke", "symbolSize": 196, "symbolStrokeWidth": 1, "symbolOpacity": 0, "labelOffset": 5.5, "labelFontSize": 11, "labelFont": "Liberation Sans", "labelColor": "#000", "padding": 0}}
 }},
{"data": {"name": "brk_tasmax"}, "mark": {"type": "rule", "color": "#999", "strokeDash": [1, 2], "strokeWidth": 1},
 "encoding": {
  "x2": {"field": "year_end"},
  "y": {"field": "lo", "type": "quantitative", "title": "C", "scale": {"domain": [22.07, 47.74], "nice": false, "zero": false},
        "axis": {"values": [23,26,29,32,35,38,41,44,47], "format": "d", "labelAngle": 270, "labelFontSize": 7, "labelColor": "#666", "tickSize": 2, "tickColor": "#999", "labelPadding": 1, "domain": false, "grid": false, "labelOverlap": false, "titleFontSize": 9, "titleFontWeight": "normal", "titleColor": "#000", "titlePadding": 1}},
  "y2": {"field": "hi"}
 }}
]
},
{
"width": 455, "height": 143,
"title": {"text": "Max_tasmin\u00a0\u00a0\u00a0\u00a0\u00a0\u00a0\u00a0\u00a0\u00a0\u00a0\u00a0\u00a0\u00a0\u200b", "subtitle": "\u200b\u00a0\u00a0\u00a0\u00a0\u00a0\u00a0\u00a0\u00a0\u00a0\u00a0\u00a0\u00a0\u00a0\u00a0\u00a0\u00a0\u00a0\u00a0\u00a0\u00a0\u00a0\u00a0\u00a0\u00a0\u00a0Columbia", "frame": "group", "anchor": "middle", "fontSize": 13, "fontWeight": "normal", "font": "Liberation Sans", "color": "#000", "subtitleFontSize": 9, "subtitleFont": "Liberation Sans", "subtitleColor": "#000", "subtitlePadding": -7, "offset": 2},
"data": {"name": "tasmin"},
"encoding": {
 "x": {"field": "year", "type": "quantitative", "title": "year", "scale": {"domain": [1980, 2020, 2050, 2098.4], "range": [13, 213, 213, 455], "nice": false, "zero": false},
       "axis": {"values": [1980,1985,1990,1995,2000,2005,2010,2015,2055,2060,2065,2070,2075,2080,2085,2090,2095], "format": "d", "labelFontSize": 7, "labelColor": "#555", "ticks": false, "labelPadding": 2, "grid": false, "domain": true, "domainColor": "#cccccc", "domainWidth": 1, "labelFlush": false, "labelOverlap": false, "titleFontSize": 10, "titleFontWeight": "normal", "titleColor": "#000", "titleX": 224, "titleY": 11.5, "titleBaseline": "middle", "titleAlign": "center"}}
},
"layer": [
{"mark": {"type": "area"},
 "encoding": {
  "y": {"field": "LE_lo", "type": "quantitative", "title": "C", "scale": {"domain": [4.07, 30.75], "nice": false, "zero": false},
        "axis": {"values": [5,7,9,12,15,18,21,24,27,30], "format": "d", "labelAngle": 270, "labelFontSize": 7, "labelColor": "#666", "tickSize": 2, "tickColor": "#999", "labelPadding": 1, "domain": false, "grid": false, "labelOverlap": false, "titleFontSize": 9, "titleFontWeight": "normal", "titleColor": "#000", "titlePadding": 1}},
  "y2": {"field": "LE_hi"},
  "detail": {"field": "period"},
  "fill": {"datum": "LE_Quan", "scale": {"domain": ["LE_Quan"], "range": ["#dcdcdc"]}, "legend": {"orient": "none", "legendX": 192.5, "legendY": 128.2, "title": null, "symbolType": "square", "symbolSize": 20, "symbolStrokeWidth": 0, "symbolOpacity": 1, "labelOffset": 8.5, "labelFontSize": 11, "labelFont": "Liberation Sans", "labelColor": "#000", "padding": 0}}
 }},
{"mark": {"type": "area", "opacity": 0.68},
 "encoding": {
  "y": {"field": "GCM_lo", "type": "quantitative", "title": "C", "scale": {"domain": [4.07, 30.75], "nice": false, "zero": false},
        "axis": {"values": [5,7,9,12,15,18,21,24,27,30], "format": "d", "labelAngle": 270, "labelFontSize": 7, "labelColor": "#666", "tickSize": 2, "tickColor": "#999", "labelPadding": 1, "domain": false, "grid": false, "labelOverlap": false, "titleFontSize": 9, "titleFontWeight": "normal", "titleColor": "#000", "titlePadding": 1}},
  "y2": {"field": "GCM_hi"},
  "detail": {"field": "period"},
  "color": {"datum": "GCM_Quan", "scale": {"domain": ["GCM_Quan"], "range": ["#00b0f0"]}, "legend": {"orient": "none", "legendX": 261.5, "legendY": 128.2, "title": null, "symbolType": "square", "symbolSize": 20, "symbolStrokeWidth": 0, "symbolOpacity": 1, "labelOffset": 2.5, "labelFontSize": 11, "labelFont": "Liberation Sans", "labelColor": "#000", "padding": 0}}
 }},
{"mark": {"type": "line", "strokeWidth": 1},
 "encoding": {
  "y": {"field": "Obs", "type": "quantitative", "title": "C", "scale": {"domain": [4.07, 30.75], "nice": false, "zero": false},
        "axis": {"values": [5,7,9,12,15,18,21,24,27,30], "format": "d", "labelAngle": 270, "labelFontSize": 7, "labelColor": "#666", "tickSize": 2, "tickColor": "#999", "labelPadding": 1, "domain": false, "grid": false, "labelOverlap": false, "titleFontSize": 9, "titleFontWeight": "normal", "titleColor": "#000", "titlePadding": 1}},
  "stroke": {"datum": "Obs", "scale": {"domain": ["Obs"], "range": ["#2c3e48"]}, "legend": {"orient": "none", "legendX": 122.5, "legendY": 126.2, "title": null, "symbolType": "stroke", "symbolSize": 196, "symbolStrokeWidth": 1, "labelOffset": 5.5, "labelFontSize": 11, "labelFont": "Liberation Sans", "labelColor": "#000", "padding": 0}}
 }},
{"data": {"name": "brk_tasmin"}, "mark": {"type": "rule", "color": "#999", "strokeDash": [1, 2], "strokeWidth": 1},
 "encoding": {
  "x2": {"field": "year_end"},
  "y": {"field": "lo", "type": "quantitative", "title": "C", "scale": {"domain": [4.07, 30.75], "nice": false, "zero": false},
        "axis": {"values": [5,7,9,12,15,18,21,24,27,30], "format": "d", "labelAngle": 270, "labelFontSize": 7, "labelColor": "#666", "tickSize": 2, "tickColor": "#999", "labelPadding": 1, "domain": false, "grid": false, "labelOverlap": false, "titleFontSize": 9, "titleFontWeight": "normal", "titleColor": "#000", "titlePadding": 1}},
  "y2": {"field": "hi"}
 }}
]
}
],
"resolve": {"scale": {"x": "independent", "y": "independent", "color": "independent", "fill": "independent", "stroke": "independent"}, "legend": {"color": "independent", "fill": "independent", "stroke": "independent"}}
}
